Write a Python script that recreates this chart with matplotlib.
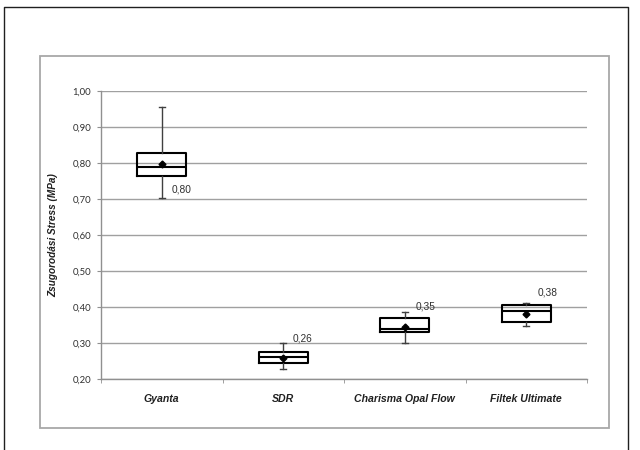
import matplotlib
matplotlib.use("Agg")
import matplotlib.pyplot as plt
from matplotlib.lines import Line2D
from matplotlib.patches import Rectangle
from matplotlib.ticker import FixedLocator, FuncFormatter

# data
materials = ["Gyanta", "SDR", "Charisma Opal Flow", "Filtek Ultimate"]
whisker_low = [0.702, 0.229, 0.301, 0.347]
q1 = [0.765, 0.245, 0.330, 0.358]
median = [0.788, 0.260, 0.338, 0.390]
q3 = [0.829, 0.275, 0.370, 0.405]
whisker_high = [0.955, 0.299, 0.387, 0.410]
mean = [0.796, 0.259, 0.344, 0.381]
mean_labels = ["0,80", "0,26", "0,35", "0,38"]

# label offsets in pixels (from the mean point)
label_offsets = [(10, -25), (9, 19), (11, 21), (11, 21)]

fig = plt.figure(figsize=(6.4, 4.5), dpi=100)
W, H = 640, 450

# outer black frame (open at the bottom)
fig.add_artist(Line2D([4 / W, 4 / W, 628 / W, 628 / W], [0, 1 - 7 / H, 1 - 7 / H, 0],
                      transform=fig.transFigure, color="#202020", lw=1.0))
# grey chart frame
fig.add_artist(Rectangle((40 / W, 1 - 428 / H), (609 - 40) / W, (428 - 56) / H,
                         transform=fig.transFigure, fill=False, edgecolor="#a8a8a8", lw=1.3))

ax = fig.add_axes([101 / W, 1 - 379 / H, (587 - 101) / W, (379 - 91) / H])

stats = []
for i, name in enumerate(materials):
    stats.append({"label": name, "whislo": whisker_low[i], "q1": q1[i], "med": median[i],
                  "q3": q3[i], "whishi": whisker_high[i], "mean": mean[i]})

ax.bxp(stats, positions=range(len(materials)), widths=0.4, showmeans=True, showfliers=False,
       boxprops=dict(color="black", lw=1.5),
       medianprops=dict(color="black", lw=1.5),
       whiskerprops=dict(color="#404040", lw=1.0),
       capprops=dict(color="#404040", lw=1.0),
       capwidths=0.05,
       meanprops=dict(marker="D", markerfacecolor="black", markeredgecolor="black", markersize=3.5),
       zorder=3)

for i, txt in enumerate(mean_labels):
    ax.annotate(txt, (i, mean[i]), xytext=label_offsets[i], textcoords="offset pixels",
                ha="left", va="center", fontsize=7.3, color="#303030",
                family="Liberation Sans")

ax.set_xlim(-0.5, len(materials) - 0.5)
ax.set_ylim(0.20, 1.00)
ax.yaxis.set_major_locator(FixedLocator([0.2 + 0.1 * k for k in range(9)]))
ax.yaxis.set_major_formatter(FuncFormatter(lambda v, p: f"{v:.2f}".replace(".", ",")))
ax.grid(axis="y", color="#a0a0a0", lw=1.0, zorder=0)
ax.set_axisbelow(True)

ax.set_xticks(range(len(materials)))
ax.set_xticklabels(materials, fontsize=7.6, fontweight="bold", fontstyle="italic",
                   family="Liberation Sans", color="#202020")
ax.set_xticks([k - 0.5 for k in range(len(materials) + 1)], minor=True)
ax.tick_params(axis="x", which="major", length=0, pad=11)
ax.tick_params(axis="x", which="minor", length=3, color="#909090", direction="out")
ax.tick_params(axis="y", length=3, color="#909090", direction="out", labelsize=6.8,
               labelcolor="#303030", pad=4)
for lbl in ax.get_yticklabels():
    lbl.set_family("Lato")

for s in ["top", "right"]:
    ax.spines[s].set_visible(False)
for s in ["left", "bottom"]:
    ax.spines[s].set_color("#909090")
    ax.spines[s].set_linewidth(1.0)

ax.set_ylabel("Zsugorodási Stress (MPa)", fontsize=7.2, fontweight="bold", fontstyle="italic",
              family="Liberation Sans", color="#202020", labelpad=10)

fig.savefig("out.png", dpi=100)
